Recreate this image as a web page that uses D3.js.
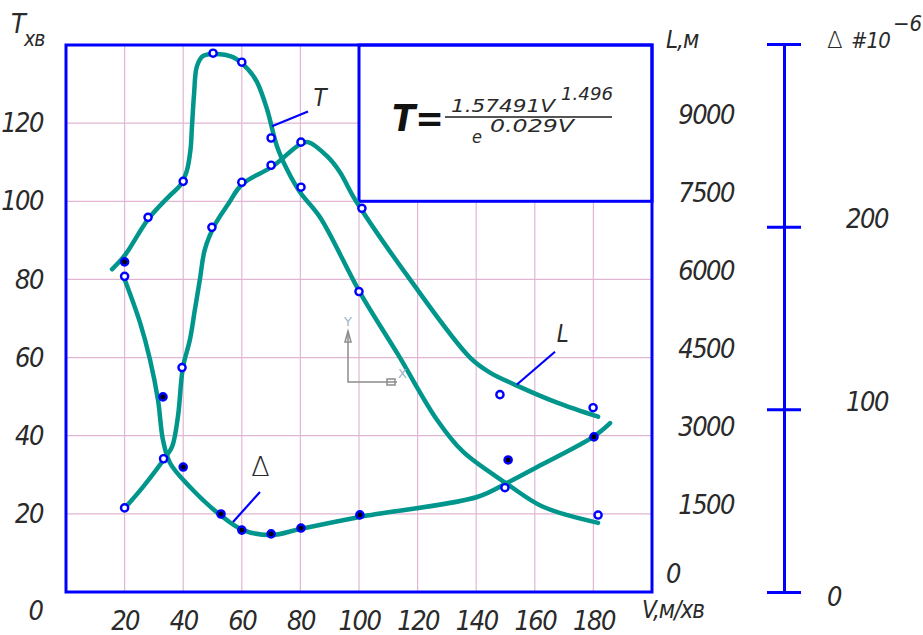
<!DOCTYPE html>
<html lang="uk">
<head>
  <meta charset="UTF-8">
  <script type="text/javascript" src="https://cdn.jsdelivr.net/npm/d3@7/dist/d3.min.js"></script>
  <style>
    body { margin: 0; background: #fff; }
    .lbl { font-family: 'Liberation Sans Narrow', 'DejaVu Sans Condensed', sans-serif; font-style: italic; fill: #2a2a2a; }
    .tri { font-family: 'DejaVu Sans', sans-serif; font-style: normal; font-weight: 200; fill: #2a2a2a; }
  </style>
</head>
<body>
<svg></svg>
<script type="text/javascript">
// tick values
var vTicks = [20, 40, 60, 80, 100, 120, 140, 160, 180];
var tTicks = [20, 40, 60, 80, 100, 120];
var lTicks = [0, 1500, 3000, 4500, 6000, 7500, 9000];
var dTicks = [0, 100, 200, 300];

// measured points: T (open), L (open), delta (filled)
var tPointV = [20, 28, 40, 50.2, 60, 70, 80.2, 100, 149.8, 181.6];
var tPointT = [80.8, 95.9, 105.1, 137.9, 135.6, 116.2, 103.6, 76.9, 26.7, 19.7];
var lPointV = [20, 33.3, 39.6, 49.8, 60, 70, 80.2, 101, 148.1, 179.9];
var lPointL = [1615, 2558, 4308, 7000, 7865, 8192, 8635, 7365, 3788, 3538];
var dPointV = [20, 33.1, 40, 52.9, 60, 70, 80.2, 100.3, 150.9, 180.2];
var dPointD = [180.7, 106.8, 68.4, 42.7, 33.9, 31.8, 35, 42.2, 72.3, 84.9];

// curves as drawn on the sheet
var tCurveV = [15.7, 20.1, 28, 35.5, 39, 41.2, 42.5, 43, 43.7, 44.7, 46.8, 50.2, 57, 62.1, 65.2, 68.6, 72, 75.4, 79.9, 86.7, 100.3, 113.3, 126.6, 135.5, 150.5, 162.8, 181.6];
var tCurveT = [82.6, 86.2, 95.4, 101.5, 104.1, 107.7, 113.3, 119.2, 127.4, 134.6, 137.2, 137.7, 136.9, 133.8, 130.5, 123.6, 114.1, 108.2, 102.3, 95.9, 76.7, 60.8, 44.1, 35.9, 27.7, 21.8, 17.7];
var lCurveV = [20.1, 26.3, 33.8, 36.2, 38.2, 39.9, 42.3, 44, 45.7, 47.4, 50.9, 55.3, 60.1, 70.6, 79.9, 82.6, 89.1, 93.5, 98.6, 117.4, 137.9, 144.7, 153.9, 167.6, 181.6];
var lCurveL = [1615, 2019, 2577, 2788, 3365, 4308, 4846, 5423, 6000, 6577, 7058, 7442, 7827, 8173, 8596, 8635, 8365, 8058, 7538, 6000, 4500, 4212, 3962, 3635, 3365];
var dCurveV = [20.1, 25.3, 28.7, 31.4, 33.1, 35.5, 42.3, 52.6, 60.4, 70.3, 79.9, 100.3, 140.3, 150.5, 160.8, 179.9, 185.7];
var dCurveD = [170.8, 147.3, 127, 105.1, 83.2, 70.6, 57.5, 42.2, 33.9, 31.2, 34.5, 41.1, 52, 59.7, 68.4, 84.9, 92.5];

function draw() {
  var W = 923, H = 635;
  var svg = d3.select("svg").attr("width", W).attr("height", H);
  svg.append("rect").attr("width", W).attr("height", H).attr("fill", "#fff");

  var blue = "#0000ff", teal = "#00968c", grid = "#e2b6d2";

  var x = d3.scaleLinear().domain([0, 200]).range([66, 652]);
  var yT = d3.scaleLinear().domain([0, 140]).range([592, 45]);
  var yL = d3.scaleLinear().domain([0, 10500]).range([592, 45]);
  var yD = d3.scaleLinear().domain([0, 300]).range([592, 44]);

  // grid
  svg.append("g").selectAll("line").data(vTicks).enter().append("line")
    .attr("x1", x).attr("x2", x).attr("y1", yT(140)).attr("y2", yT(0))
    .attr("stroke", grid).attr("stroke-width", 1.2);
  svg.append("g").selectAll("line").data(tTicks).enter().append("line")
    .attr("y1", yT).attr("y2", yT).attr("x1", x(0)).attr("x2", x(200))
    .attr("stroke", grid).attr("stroke-width", 1.2);

  // formula box covers the grid
  svg.append("rect")
    .attr("x", x(100)).attr("y", yT(140))
    .attr("width", x(200) - x(100)).attr("height", yT(100) - yT(140))
    .attr("fill", "#fff").attr("stroke", blue).attr("stroke-width", 3);

  // frame
  svg.append("rect")
    .attr("x", x(0)).attr("y", yT(140))
    .attr("width", x(200) - x(0)).attr("height", yT(0) - yT(140))
    .attr("fill", "none").attr("stroke", blue).attr("stroke-width", 3);

  function styleAxis(g) {
    g.select(".domain").remove();
    g.attr("font-family", null).attr("font-size", null);
    g.selectAll("text").attr("class", "lbl")
      .style("font-size", "27px").style("letter-spacing", "-1.5px");
  }

  // left T axis
  svg.append("g").attr("transform", "translate(" + x(0) + ",0)")
    .call(d3.axisLeft(yT).tickValues(tTicks).tickSize(0).tickPadding(23))
    .call(styleAxis);

  // bottom V axis
  svg.append("g").attr("transform", "translate(0," + yT(0) + ")")
    .call(d3.axisBottom(x).tickValues(vTicks).tickSize(0).tickPadding(19))
    .call(styleAxis);

  // right L axis
  var gL = svg.append("g").attr("transform", "translate(" + x(200) + ",0)")
    .call(d3.axisRight(yL).tickValues(lTicks).tickSize(0).tickFormat(d3.format("d")))
    .call(styleAxis);
  gL.selectAll("text")
    .attr("text-anchor", "end")
    .attr("x", function(d) { return d === 0 ? 28 : 82; })
    .attr("dy", function(d) { return d === 0 ? "-10px" : "0"; });

  // origin zero
  svg.append("text").attr("class", "lbl")
    .attr("x", 44).attr("y", 620).attr("text-anchor", "end")
    .style("font-size", "27px").text("0");

  // delta axis
  var gD = svg.append("g").attr("transform", "translate(784,0)")
    .call(d3.axisRight(yD).tickValues(dTicks).tickSizeOuter(0)
      .tickFormat(function(d) { return d === 300 ? "" : d; }));
  gD.attr("font-family", null).attr("font-size", null);
  gD.select(".domain").attr("stroke", blue).attr("stroke-width", 3);
  gD.selectAll(".tick line").attr("x1", -17).attr("x2", 17)
    .attr("stroke", blue).attr("stroke-width", 3);
  gD.selectAll("text").attr("class", "lbl")
    .style("font-size", "27px").style("letter-spacing", "-1.5px")
    .attr("text-anchor", "start")
    .attr("x", function(d) { return d === 0 ? 43 : 62; })
    .attr("dy", function(d) { return d === 0 ? "13px" : "1px"; });

  // axis titles
  svg.append("text").attr("class", "lbl").attr("x", 11).attr("y", 33)
    .style("font-size", "27px").text("T");
  svg.append("text").attr("class", "lbl").attr("x", 24).attr("y", 46)
    .style("font-size", "21px").style("letter-spacing", "-1px").text("хв");
  svg.append("text").attr("class", "lbl").attr("x", 666).attr("y", 48)
    .style("font-size", "24px").style("letter-spacing", "-1px").text("L,м");
  svg.append("text").attr("class", "lbl").attr("x", 642).attr("y", 618)
    .style("font-size", "24px").style("letter-spacing", "-1px").text("V,м/хв");
  svg.append("text").attr("class", "tri").attr("x", 827).attr("y", 48)
    .style("font-size", "23px").text("\u0394");
  svg.append("text").attr("class", "lbl").attr("x", 851).attr("y", 48)
    .style("font-size", "22px").style("letter-spacing", "-1px").text("#10");
  svg.append("text").attr("class", "lbl").attr("x", 893).attr("y", 31)
    .style("font-size", "22px").text("\u22126");

  // curves
  var line = d3.line().curve(d3.curveCatmullRom.alpha(0.5));
  function curve(vs, ys, sy) {
    svg.append("path")
      .attr("d", line(vs.map(function(v, i) { return [x(v), sy(ys[i])]; })))
      .attr("fill", "none").attr("stroke", teal).attr("stroke-width", 4.5)
      .attr("stroke-linecap", "round").attr("stroke-linejoin", "round");
  }
  curve(tCurveV, tCurveT, yT);
  curve(lCurveV, lCurveL, yL);
  curve(dCurveV, dCurveD, yD);

  // markers
  function dots(vs, ys, sy, fill) {
    svg.append("g").selectAll("circle").data(vs).enter().append("circle")
      .attr("cx", function(v) { return x(v); })
      .attr("cy", function(v, i) { return sy(ys[i]); })
      .attr("r", 3.6).attr("fill", fill)
      .attr("stroke", blue).attr("stroke-width", 2.4);
  }
  dots(tPointV, tPointT, yT, "#fff");
  dots(lPointV, lPointL, yL, "#fff");
  dots(dPointV, dPointD, yD, "#000");

  // leaders and curve names
  function leader(v1, t1, v2, t2) {
    svg.append("line")
      .attr("x1", x(v1)).attr("y1", yT(t1)).attr("x2", x(v2)).attr("y2", yT(t2))
      .attr("stroke", blue).attr("stroke-width", 2.2);
  }
  leader(70.3, 119.2, 82.6, 123);
  leader(153.9, 53.1, 166.9, 61.5);
  leader(57, 17.9, 66.2, 25.6);
  svg.append("text").attr("class", "lbl").attr("x", x(84.5)).attr("y", yT(124.5))
    .style("font-size", "24px").text("T");
  svg.append("text").attr("class", "lbl").attr("x", x(167.5)).attr("y", yT(64))
    .style("font-size", "24px").text("L");
  svg.append("text").attr("class", "tri").attr("x", x(63.2)).attr("y", yT(29.8))
    .style("font-size", "27px").text("\u0394");

  // ucs icon
  var ucs = svg.append("g").attr("stroke", "#8c8c8c").attr("stroke-width", 1.5).attr("fill", "none");
  ucs.append("path").attr("d", "M348,331 L348,382 L397,382");
  ucs.append("path").attr("d", "M345,342 L348,331 L351,342 Z");
  ucs.append("rect").attr("x", 387).attr("y", 379).attr("width", 8).attr("height", 6);
  svg.append("text").attr("x", 344).attr("y", 326).attr("font-family", "DejaVu Sans")
    .attr("font-size", 13).attr("fill", "#a0b4c8").text("Y");
  svg.append("text").attr("x", 398).attr("y", 378).attr("font-family", "DejaVu Sans")
    .attr("font-size", 13).attr("fill", "#a0b4c8").text("X");

  // formula T = 1.57491 V^1.496 / e^0.029V
  var f = svg.append("g").attr("class", "lbl");
  f.append("text").attr("x", 392).attr("y", 131)
    .style("font-size", "38px").style("font-weight", "bold").style("fill", "#111").text("T=");
  f.append("text").attr("x", 451).attr("y", 112)
    .attr("textLength", 104).attr("lengthAdjust", "spacingAndGlyphs")
    .style("font-size", "17px").text("1.57491V");
  f.append("text").attr("x", 561).attr("y", 100)
    .attr("textLength", 52).attr("lengthAdjust", "spacingAndGlyphs")
    .style("font-size", "17px").text("1.496");
  svg.append("line").attr("x1", 445).attr("x2", 612).attr("y1", 117).attr("y2", 117)
    .attr("stroke", "#555").attr("stroke-width", 2);
  f.append("text").attr("x", 472).attr("y", 143).style("font-size", "18px").text("e");
  f.append("text").attr("x", 490).attr("y", 132)
    .attr("textLength", 84).attr("lengthAdjust", "spacingAndGlyphs")
    .style("font-size", "17px").text("0.029V");
}

draw();
</script>
</body>
</html>
